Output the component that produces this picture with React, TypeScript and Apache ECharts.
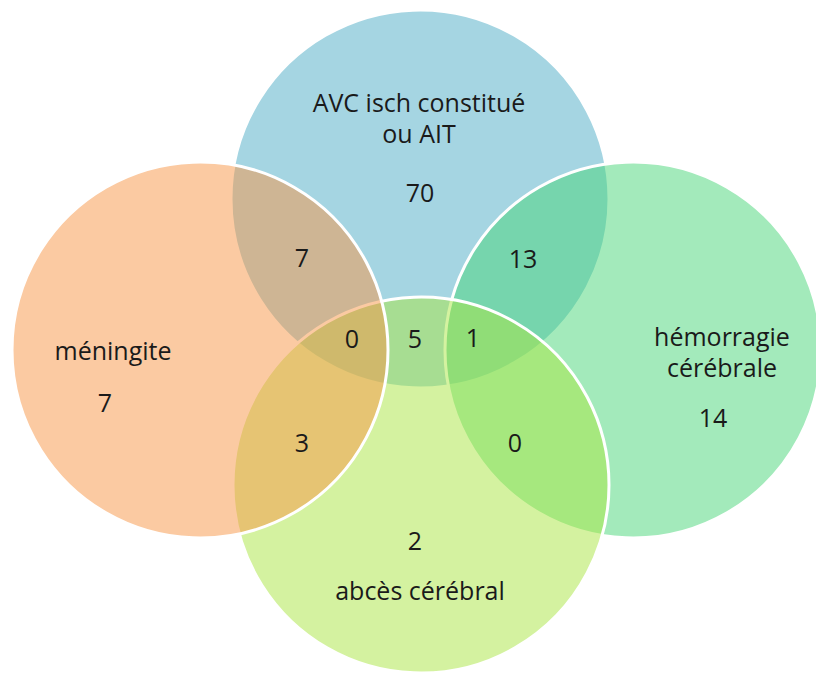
import React, { useEffect, useRef } from 'react';
import * as echarts from 'echarts';

// Sets (drawing order: bottom to top)
const setNames = ['AVC isch constitué\nou AIT', 'hémorragie\ncérébrale', 'abcès cérébral', 'méningite'];
const setColors = ['#4BACC6', '#48D578', '#A9E541', '#F79646'];
const onlyCounts = [70, 14, 2, 7];

// Overlap regions
const overlapNames = [
  'AVC ∩ méningite',
  'AVC ∩ hémorragie',
  'AVC ∩ méningite ∩ abcès',
  'AVC ∩ abcès',
  'AVC ∩ hémorragie ∩ abcès',
  'méningite ∩ abcès',
  'hémorragie ∩ abcès',
];
const overlapCounts = [7, 13, 0, 5, 1, 3, 0];

// Layout (pixels)
const W = 816;
const H = 677;
const circleLayout = [
  [420, 199, 189],
  [633, 350, 188],
  [421, 485, 188],
  [200, 350, 188],
];
const setNamePos = [
  [419, 117],
  [722, 351],
  [420, 590],
  [113, 350],
];
const onlyCountPos = [
  [420, 192],
  [713, 417],
  [415, 540],
  [105, 402],
];
const overlapPos = [
  [302, 257],
  [523, 258],
  [352, 338],
  [415, 338],
  [473, 337],
  [302, 442],
  [515, 442],
];

const FONT = '25px "Open Sans", Lato, sans-serif';
const TEXT_COLOR = '#1a1a1a';

function hexToRgba(hex: string, a: number) {
  const n = parseInt(hex.slice(1), 16);
  return `rgba(${(n >> 16) & 255},${(n >> 8) & 255},${n & 255},${a})`;
}

export default function App() {
  const ref = useRef<HTMLDivElement>(null);
  useEffect(() => {
    if (!ref.current) return;
    const chart = echarts.init(ref.current, undefined, { renderer: 'svg' });

    const labels: { x: number; y: number; text: string }[] = [];
    setNames.forEach((n, i) => labels.push({ x: setNamePos[i][0], y: setNamePos[i][1], text: n }));
    onlyCounts.forEach((c, i) => labels.push({ x: onlyCountPos[i][0], y: onlyCountPos[i][1], text: String(c) }));
    overlapCounts.forEach((c, i) => labels.push({ x: overlapPos[i][0], y: overlapPos[i][1], text: String(c) }));

    chart.setOption({
      animation: false,
      grid: { left: 0, right: 0, top: 0, bottom: 0 },
      xAxis: { type: 'value', min: 0, max: W, show: false },
      yAxis: { type: 'value', min: 0, max: H, inverse: true, show: false },
      tooltip: { show: false },
      series: [
        {
          type: 'custom',
          name: 'sets',
          clip: false,
          silent: true,
          data: circleLayout.map((c) => [c[0], c[1], c[2]]),
          renderItem: (params: any, api: any) => {
            const i = params.dataIndex;
            const p = api.coord([api.value(0), api.value(1)]);
            const r = api.size([api.value(2), 0])[0];
            return {
              type: 'circle',
              shape: { cx: p[0], cy: p[1], r },
              style: { fill: hexToRgba(setColors[i], 0.5), stroke: '#ffffff', lineWidth: 3 },
            };
          },
        },
        {
          type: 'custom',
          name: 'labels',
          clip: false,
          silent: true,
          z: 5,
          data: labels.map((l) => [l.x, l.y]),
          renderItem: (params: any, api: any) => {
            const l = labels[params.dataIndex];
            const p = api.coord([api.value(0), api.value(1)]);
            return {
              type: 'text',
              x: p[0],
              y: p[1],
              style: {
                text: l.text,
                font: FONT,
                fill: TEXT_COLOR,
                align: 'center',
                verticalAlign: 'middle',
                lineHeight: 31,
              },
            };
          },
        },
      ],
    });
    return () => chart.dispose();
  }, []);
  return <div ref={ref} style={{ position: 'absolute', left: 0, top: 0, width: W, height: H }} />;
}
